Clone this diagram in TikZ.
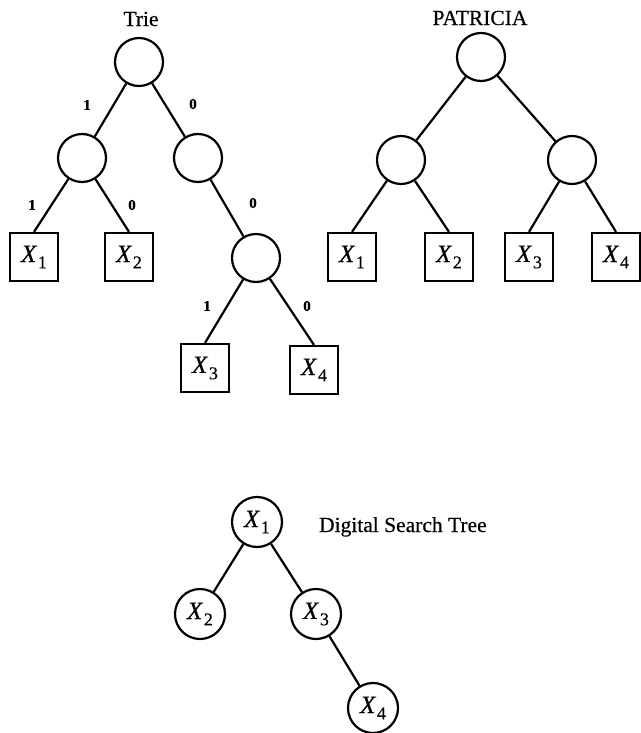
\documentclass[tikz,border=0pt]{standalone}
\usepackage{fontspec}
\setmainfont[FakeBold=0.4]{Liberation Serif}
% italic X with an upright, lowered index
\newcommand{\xlab}[1]{\textit{X}\kern0.8pt\raisebox{-0.55ex}{\fontsize{18}{18}\selectfont #1}}
\begin{document}
\begin{tikzpicture}[x=1pt, y=-1pt, line width=2.2pt,
  inner/.style={draw, circle, minimum size=48pt, inner sep=0pt},
  dnode/.style={draw, circle, minimum size=50pt, inner sep=0pt, font=\fontsize{25}{25}\selectfont},
  leaf/.style={draw, rectangle, minimum width=48pt, minimum height=48pt, inner sep=0pt, font=\fontsize{25}{25}\selectfont},
  title/.style={font=\fontsize{21.5}{21.5}\selectfont},
  bit/.style={font=\fontsize{15}{15}\selectfont\bfseries}]
\useasboundingbox (0,0) rectangle (640,733);

% Trie
\node[title] (ttitle) at (141,19) {Trie};
\node[inner] (t0) at (139,62) {};
\node[inner] (t1) at (82,158) {};
\node[inner] (t2) at (198,158) {};
\node[inner] (t3) at (256,258) {};
\node[leaf] (tx1) at (34,257) {\xlab{1}};
\node[leaf] (tx2) at (129,257) {\xlab{2}};
\node[leaf] (tx3) at (205,368) {\xlab{3}};
\node[leaf] (tx4) at (314,370) {\xlab{4}};
\draw (t0) -- (t1);
\draw (t0) -- (t2);
\draw (t1) -- (tx1.north);
\draw (t1) -- (tx2.north);
\draw (t2) -- (t3);
\draw (t3) -- (tx3.north);
\draw (t3) -- (tx4.north);
\node[bit] (b1) at (87,105) {1};
\node[bit] (b2) at (193,104) {0};
\node[bit] (b3) at (32,205) {1};
\node[bit] (b4) at (132,205) {0};
\node[bit] (b5) at (253,203) {0};
\node[bit] (b6) at (207,306) {1};
\node[bit] (b7) at (307,306) {0};

% PATRICIA
\node[title] (ptitle) at (480,18) {PATRICIA};
\node[inner] (p0) at (481,57) {};
\node[inner] (p1) at (401,160) {};
\node[inner] (p2) at (572,160) {};
\node[leaf] (px1) at (352,257) {\xlab{1}};
\node[leaf] (px2) at (449,257) {\xlab{2}};
\node[leaf] (px3) at (529,257) {\xlab{3}};
\node[leaf] (px4) at (616,257) {\xlab{4}};
\draw (p0) -- (p1);
\draw (p0) -- (p2);
\draw (p1) -- (px1.north);
\draw (p1) -- (px2.north);
\draw (p2) -- (px3.north);
\draw (p2) -- (px4.north);

% Digital search tree
\node[dnode] (d1) at (257,522) {\xlab{1}};
\node[dnode] (d2) at (200,614) {\xlab{2}};
\node[dnode] (d3) at (316,614) {\xlab{3}};
\node[dnode] (d4) at (373,708) {\xlab{4}};
\draw (d1) -- (d2);
\draw (d1) -- (d3);
\draw (d3) -- (d4);
\node[title, anchor=base west, inner sep=0pt] (dtitle) at (318,532) {Digital Search Tree};
\end{tikzpicture}
\end{document}
